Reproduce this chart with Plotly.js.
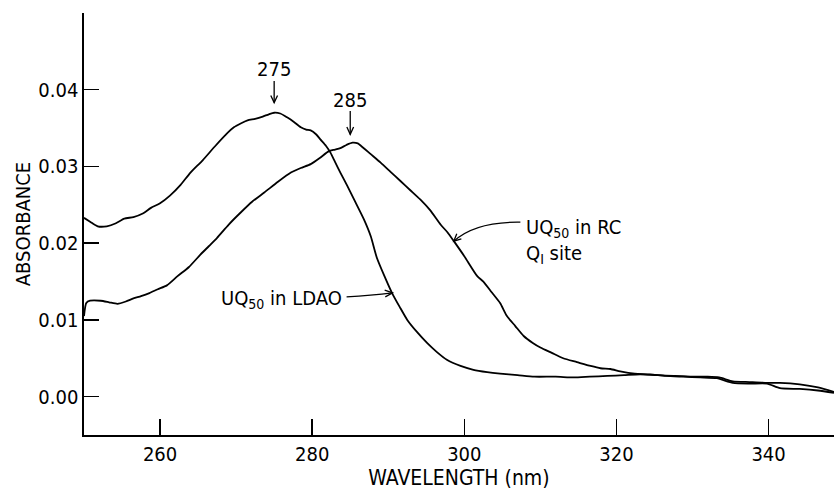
<!DOCTYPE html>
<html>
<head>
<meta charset="utf-8">
<script src="https://cdn.plot.ly/plotly-3.0.1.min.js"></script>
<style>html,body{margin:0;padding:0;background:#fff;}#chart{width:834px;height:490px;}</style>
</head>
<body>
<div id="chart"></div>
<script>
// UQ50 in LDAO (peak 275 nm)
const ldaoWavelength = [250.0,250.8,251.8,253.0,254.2,255.3,256.5,257.8,258.8,260.0,261.3,262.7,264.0,265.6,267.2,268.9,269.7,270.6,271.5,272.5,273.5,274.3,275.0,275.8,276.7,277.6,278.5,279.2,279.8,280.5,281.1,281.8,282.4,283.0,283.7,284.6,285.5,286.8,287.7,288.5,289.5,290.5,291.5,292.5,293.8,295.1,296.4,297.7,299.5,301.2,303.0,304.7,307.0,309.2,312.0,314.4,316.5,318.8,321.0,323.1,325.5,327.5,330.0,332.0,333.5,335.3,337.5,339.8,341.5,344.1,346.5,348.6];
const ldaoAbsorbance = [0.0233,0.0228,0.0222,0.0222,0.0226,0.0232,0.0234,0.0239,0.0246,0.0252,0.0262,0.0276,0.0292,0.0308,0.0326,0.0344,0.0351,0.0356,0.0360,0.0362,0.0365,0.0368,0.0370,0.0369,0.0364,0.0358,0.0351,0.0348,0.0347,0.0342,0.0335,0.0327,0.0318,0.0306,0.0292,0.0275,0.0257,0.0231,0.0209,0.0181,0.0157,0.0135,0.0117,0.0100,0.0084,0.0070,0.0058,0.0048,0.0040,0.0035,0.0032,0.0030,0.0028,0.0026,0.0026,0.0025,0.0026,0.0027,0.0028,0.0029,0.0028,0.0027,0.0026,0.0026,0.0025,0.0020,0.0019,0.0018,0.0018,0.0016,0.0012,0.0006];

// UQ50 in RC, QI site (peak 285 nm)
const rcWavelength = [250.0,250.3,250.8,252.2,253.3,254.4,255.5,256.5,257.5,258.6,259.7,260.9,262.3,263.8,265.3,266.4,267.5,269.0,270.6,272.1,273.7,275.5,277.2,278.5,279.8,281.0,282.2,283.0,283.7,284.5,285.3,286.0,286.4,287.7,289.0,290.3,291.6,292.9,294.2,295.5,296.9,297.8,298.6,300.0,301.7,302.5,303.6,304.7,305.6,306.7,307.8,309.0,310.0,311.5,313.0,314.8,316.6,317.9,319.2,320.5,322.4,324.4,326.5,328.8,331.0,333.2,335.3,337.5,339.8,341.5,344.1,346.5,348.6];
const rcAbsorbance = [0.0105,0.0122,0.0125,0.0125,0.0123,0.0121,0.0124,0.0128,0.0131,0.0135,0.0140,0.0145,0.0157,0.0169,0.0185,0.0196,0.0207,0.0224,0.0240,0.0254,0.0266,0.0280,0.0292,0.0298,0.0303,0.0311,0.0320,0.0322,0.0324,0.0328,0.0331,0.0330,0.0327,0.0316,0.0305,0.0293,0.0281,0.0269,0.0257,0.0243,0.0224,0.0214,0.0203,0.0183,0.0157,0.0150,0.0136,0.0122,0.0105,0.0092,0.0079,0.0070,0.0064,0.0057,0.0050,0.0045,0.0040,0.0037,0.0036,0.0033,0.0030,0.0029,0.0027,0.0026,0.0025,0.0024,0.0018,0.0017,0.0017,0.0011,0.0010,0.0008,0.0005];

const xTicks = [260, 280, 300, 320, 340];
const yTicks = [0.00, 0.01, 0.02, 0.03, 0.04];
const yTickText = ['0.00', '0.01', '0.02', '0.03', '0.04'];

const FONT = '"DejaVu Sans Condensed", "Liberation Sans Narrow", "DejaVu Sans", sans-serif';

const traces = [
  {x: ldaoWavelength, y: ldaoAbsorbance, type: 'scatter', mode: 'lines', line: {color: '#000', width: 1.8, shape: 'spline', smoothing: 0.6}, name: 'UQ50 in LDAO', hoverinfo: 'x+y'},
  {x: rcWavelength, y: rcAbsorbance, type: 'scatter', mode: 'lines', line: {color: '#000', width: 1.8, shape: 'spline', smoothing: 0.6}, name: 'UQ50 in RC', hoverinfo: 'x+y'}
];

const annFont = {family: FONT, size: 20, color: '#000'};
const arrowLine = {color: '#000', width: 1.3};

const layout = {
  width: 834, height: 490,
  margin: {l: 84, r: 0, t: 13, b: 55, pad: 0},
  paper_bgcolor: '#fff', plot_bgcolor: '#fff',
  showlegend: false,
  font: {family: FONT, size: 20, color: '#000'},
  xaxis: {
    range: [250, 348.6], tickvals: xTicks, ticktext: xTicks.map(String),
    ticks: 'inside', ticklen: 16, tickwidth: 1.5, tickcolor: '#000',
    showline: true, linecolor: '#000', linewidth: 1.6, mirror: false,
    showgrid: false, zeroline: false,
    tickfont: {family: FONT, size: 20, color: '#000'},
    title: {text: 'WAVELENGTH (nm)', font: {family: FONT, size: 21, color: '#000'}, standoff: 6}
  },
  yaxis: {
    range: [-0.005, 0.05], tickvals: yTicks, ticktext: yTickText,
    ticks: 'inside', ticklen: 15, tickwidth: 1.5, tickcolor: '#000',
    showline: true, linecolor: '#000', linewidth: 1.6, mirror: false,
    showgrid: false, zeroline: false,
    tickfont: {family: FONT, size: 20, color: '#000'},
    title: {text: 'ABSORBANCE', font: {family: FONT, size: 20, color: '#000'}, standoff: 2}
  },
  annotations: [
    {x: 275, y: 0.04275, text: '275', showarrow: false, xanchor: 'center', yanchor: 'middle', font: annFont},
    {x: 285, y: 0.03866, text: '285', showarrow: false, xanchor: 'center', yanchor: 'middle', font: annFont},
    {x: 284.2, y: 0.0127, text: 'UQ<sub>50</sub> in LDAO', showarrow: false, xanchor: 'right', yanchor: 'middle', font: annFont},
    {x: 307.8, y: 0.0203, text: 'UQ<sub>50</sub> in RC<br>Q<sub>I</sub> site', align: 'left', showarrow: false, xanchor: 'left', yanchor: 'middle', font: annFont}
  ],
  shapes: [
    // 275 arrow
    {type: 'path', xref: 'x', yref: 'y', path: 'M 275,0.04114 L 275,0.03832', line: arrowLine},
    {type: 'path', xref: 'x', yref: 'y', path: 'M 274.556,0.03926 L 275,0.03832 L 275.444,0.03926', line: arrowLine},
    // 285 arrow
    {type: 'path', xref: 'x', yref: 'y', path: 'M 285,0.03722 L 285,0.03418', line: arrowLine},
    {type: 'path', xref: 'x', yref: 'y', path: 'M 284.556,0.03513 L 285,0.03418 L 285.444,0.03513', line: arrowLine},
    // LDAO label arrow
    {type: 'path', xref: 'x', yref: 'y', path: 'M 284.52,0.01301 Q 287.8,0.01318 290.56,0.01353', line: arrowLine},
    {type: 'path', xref: 'x', yref: 'y', path: 'M 289.61,0.01301 L 290.56,0.01353 L 289.53,0.01388', line: arrowLine},
    // RC label arrow (curved)
    {type: 'path', xref: 'x', yref: 'y', path: 'M 307.37,0.02274 Q 301.46,0.02283 298.61,0.02026', line: arrowLine},
    {type: 'path', xref: 'x', yref: 'y', path: 'M 299.01,0.02123 L 298.61,0.02026 L 299.61,0.02057', line: arrowLine}
  ]
};

Plotly.newPlot('chart', traces, layout, {displayModeBar: false, staticPlot: true});
</script>
</body>
</html>
